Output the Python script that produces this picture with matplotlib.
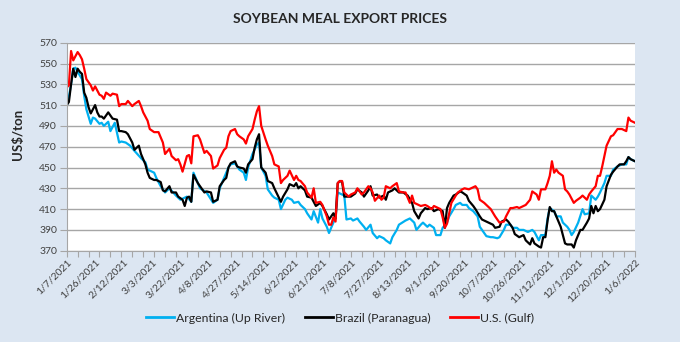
import numpy as np
import pandas as pd
import matplotlib.pyplot as plt
from matplotlib.lines import Line2D

# (business day since 1/7/2021, US$/ton)
argentina = [(0,509),(1,518),(2,530),(3,545),(4,546),(5,542),(7,535),(8,519),(9,506),(11,492),(12,498),(13,497),
             (15,492),(16,493),(17,490),(19,494),(20,485),(22,493),(24,474),(25,475),(27,474),(29,471),(31,466),
             (34,459),(36,455),(37,448),(40,445),(41,440),(43,432),(45,426),(47,430),(50,423),(52,419),(55,422),
             (57,417),(58,445),(61,430),(64,426),(67,416),(69,419),(70,430),(72,440),(74,450),(75,453),(77,454),
             (79,448),(81,445),(82,438),(83,450),(85,463),(87,472),(88,474),(89,450),(91,442),(92,429),(94,423),
             (95,421),(97,419),(98,410),(100,419),(101,421),(103,419),(104,416),(106,417),(107,414),(109,410),
             (110,406),(112,400),(113,408),(115,397),(116,410),(117,401),(119,393),(120,387),(121,392),(122,397),
             (123,401),(124,426),(126,424),(127,423),(128,400),(130,401),(131,399),(133,401),(134,398),(136,393),
             (137,390),(139,395),(140,387),(142,382),(143,384),(145,382),(146,380),(148,377),(149,383),(151,390),
             (152,395),(155,399),(157,401),(159,397),(160,390),(162,395),(163,397),(165,393),(166,395),(168,392),
             (169,385),(171,385),(172,392),(174,397),(175,403),(177,410),(178,414),(180,416),(181,414),(183,414),
             (184,411),(186,408),(188,403),(189,393),(191,387),(192,384),(194,383),(195,383),(197,382),(198,383),
             (200,390),(201,395),(203,395),(204,392),(206,392),(207,390),(209,390),(211,388),(213,390),(214,388),
             (216,380),(217,385),(219,385),(220,401),(221,411),(223,408),(224,403),(226,403),(227,397),(229,393),
             (230,390),(231,385),(232,388),(234,397),(236,410),(237,405),(239,406),(240,423),(242,419),(243,422),
             (244,426),(246,435),(247,442),(249,442),(250,448),(252,451),(254,453),(256,453),(257,460),(258,458),
             (260,456)]

brazil = [(0,510),(1,513),(2,530),(3,545),(4,537),(5,545),(6,542),(7,540),(8,522),(9,517),(10,508),(11,502),
          (13,510),(14,503),(15,499),(16,499),(17,497),(19,503),(20,500),(21,497),(23,496),(24,485),(25,485),
          (27,484),(28,482),(30,474),(31,467),(33,471),(34,463),(36,453),(37,445),(38,440),(40,438),(41,438),
          (43,436),(44,428),(45,427),(47,432),(48,426),(50,426),(51,422),(53,419),(54,413),(55,421),(56,422),
          (57,417),(58,443),(60,435),(61,432),(63,426),(64,427),(66,426),(67,417),(69,419),(70,432),(72,438),
          (73,440),(74,450),(75,454),(77,456),(78,451),(79,450),(81,449),(82,445),(83,453),(85,458),(86,469),
          (87,477),(88,482),(89,450),(91,445),(92,437),(94,435),(95,430),(98,417),(99,422),(101,429),(102,434),
          (104,432),(105,435),(106,430),(107,432),(109,428),(110,422),(112,421),(113,417),(114,413),(116,416),
          (117,413),(119,405),(120,400),(121,403),(122,406),(123,401),(124,435),(125,437),(126,436),(127,422),
          (129,422),(130,422),(132,425),(133,429),(135,426),(136,422),(138,428),(139,432),(140,423),(142,424),
          (143,421),(145,423),(146,419),(147,426),(149,428),(150,430),(152,426),(154,426),(156,423),(158,416),
          (159,408),(161,401),(162,406),(164,411),(165,410),(167,411),(168,408),(170,410),(172,408),(173,392),
          (174,411),(175,416),(177,423),(178,424),(180,427),(181,426),(183,423),(184,418),(186,413),(187,410),
          (189,403),(190,400),(192,398),(193,397),(195,395),(196,392),(198,393),(199,398),(201,400),(202,398),
          (204,392),(205,386),(207,383),(209,385),(210,380),(212,376),(213,382),(214,377),(216,374),(217,373),
          (218,383),(219,383),(220,399),(221,412),(222,408),(223,408),(225,398),(226,393),(228,377),(229,376),
          (231,376),(232,373),(233,380),(235,390),(236,390),(238,397),(239,401),(240,413),(241,406),(242,413),
          (243,408),(244,410),(246,419),(247,432),(249,443),(250,446),(252,451),(253,453),(255,453),(256,456),
          (257,460),(258,458),(260,456)]

us_gulf = [(0,527),(1,529),(2,562),(3,553),(4,557),(5,561),(6,558),(7,554),(8,545),(9,535),(11,529),(12,524),
           (13,528),(15,520),(16,519),(17,516),(18,522),(20,519),(21,521),(23,520),(24,509),(25,511),(27,511),
           (28,514),(30,509),(31,511),(33,514),(34,509),(35,503),(37,495),(38,487),(40,484),(42,484),(44,474),
           (45,463),(47,468),(48,461),(50,457),(51,458),(52,453),(53,446),(55,461),(56,462),(57,454),(58,480),
           (60,481),(61,477),(63,464),(64,466),(66,461),(67,449),(69,452),(70,459),(72,467),(73,469),(74,480),
           (75,485),(77,487),(78,482),(79,480),(81,477),(82,473),(83,480),(85,487),(86,496),(87,504),(88,509),
           (89,490),(91,477),(92,471),(94,461),(95,453),(97,451),(98,435),(99,438),(101,442),(102,447),(104,438),
           (105,442),(106,438),(107,437),(109,432),(110,426),(112,421),(113,430),(114,416),(116,417),(117,414),
           (119,403),(120,395),(121,395),(122,402),(123,398),(124,435),(125,437),(126,437),(127,426),(129,422),
           (130,424),(132,426),(133,430),(135,424),(136,426),(138,432),(139,430),(140,426),(141,418),(143,423),
           (144,419),(145,421),(146,432),(148,430),(149,432),(151,435),(152,427),(154,426),(155,426),(157,416),
           (158,423),(159,416),(161,414),(162,413),(164,414),(165,413),(167,410),(168,413),(170,411),(171,410),
           (172,402),(173,392),(174,396),(175,406),(176,416),(178,423),(179,426),(181,429),(182,430),(184,429),
           (185,430),(187,432),(188,429),(189,419),(191,416),(194,410),(196,403),(198,397),(200,398),(201,403),
           (203,411),(204,411),(206,412),(207,411),(209,413),(210,414),(212,419),(213,427),(215,424),(216,419),
           (217,429),(219,429),(220,435),(221,442),(222,456),(223,445),(224,448),(225,445),(227,442),(228,429),
           (229,427),(230,424),(232,416),(233,418),(235,421),(236,423),(238,419),(239,424),(240,427),(242,432),
           (243,442),(244,442),(245,451),(247,471),(249,480),(250,481),(252,487),(254,487),(256,485),(257,498),
           (258,495),(260,493)]

series = [("Argentina (Up River)", argentina, "#00B0F0"),
          ("Brazil (Paranagua)", brazil, "#000000"),
          ("U.S. (Gulf)", us_gulf, "#FF0000")]

dates = pd.bdate_range("2021-01-07", periods=261)
label_days = np.arange(0, 261, 13)
tick_labels = [f"{d.month}/{d.day}/{d.year}" for d in dates[label_days]]

bg = "#DCE6F2"
grid_c = "#A6A6A6"
plt.rcParams["font.family"] = ["Lato", "DejaVu Sans"]

fig = plt.figure(figsize=(6.8, 3.42), dpi=100, facecolor=bg)
ax = fig.add_axes([66.7 / 680, 1 - 250.7 / 342, (635 - 66.7) / 680, (250.7 - 42.7) / 342])
ax.set_facecolor("white")

for name, pts, color in series:
    x, y = zip(*pts)
    ax.plot(x, y, color=color, lw=1.6, label=name, solid_joinstyle="round")

ax.set_xlim(0, 260)
ax.set_ylim(370, 570)
ax.set_yticks(np.arange(370, 571, 20))
ax.yaxis.grid(True, color=grid_c, lw=1.0)
ax.set_axisbelow(True)

# tick marks every 5 days, date labels every 13 days
ax.xaxis.remove_overlapping_locs = False
ax.set_xticks(np.arange(0, 261, 5))
ax.set_xticklabels([])
ax.set_xticks(label_days, minor=True)
ax.set_xticklabels(tick_labels, minor=True, rotation=45, ha="right",
                   rotation_mode="anchor", fontsize=7.5, color="#404040")
ax.tick_params(axis="x", which="minor", length=0, pad=5)
ax.tick_params(axis="x", which="major", length=4, color=grid_c, width=0.8)
ax.tick_params(axis="y", length=5, color=grid_c, width=0.8, labelsize=7.5,
               labelcolor="#404040", pad=2)

for side in ["top", "right"]:
    ax.spines[side].set_visible(False)
for side in ["left", "bottom"]:
    ax.spines[side].set_color(grid_c)
    ax.spines[side].set_linewidth(0.8)

fig.text(0.5, 1 - 19 / 342, "SOYBEAN MEAL EXPORT PRICES", ha="center", va="center",
         fontsize=10, fontweight="bold", color="#262626")
fig.text(18 / 680, 1 - 134 / 342, "US$/ton", rotation=90, ha="center", va="center",
         fontsize=9.5, fontweight="bold", color="#262626")

handles = [Line2D([], [], color=c, lw=2) for _, _, c in series]
fig.legend(handles, [n for n, _, _ in series], loc="center", bbox_to_anchor=(0.5, 1 - 318 / 342),
           ncol=3, frameon=False, fontsize=8.8, handlelength=2.3, handletextpad=0.15,
           columnspacing=1.6, labelcolor="#262626")

fig.savefig("out.png", dpi=100, facecolor=bg)
